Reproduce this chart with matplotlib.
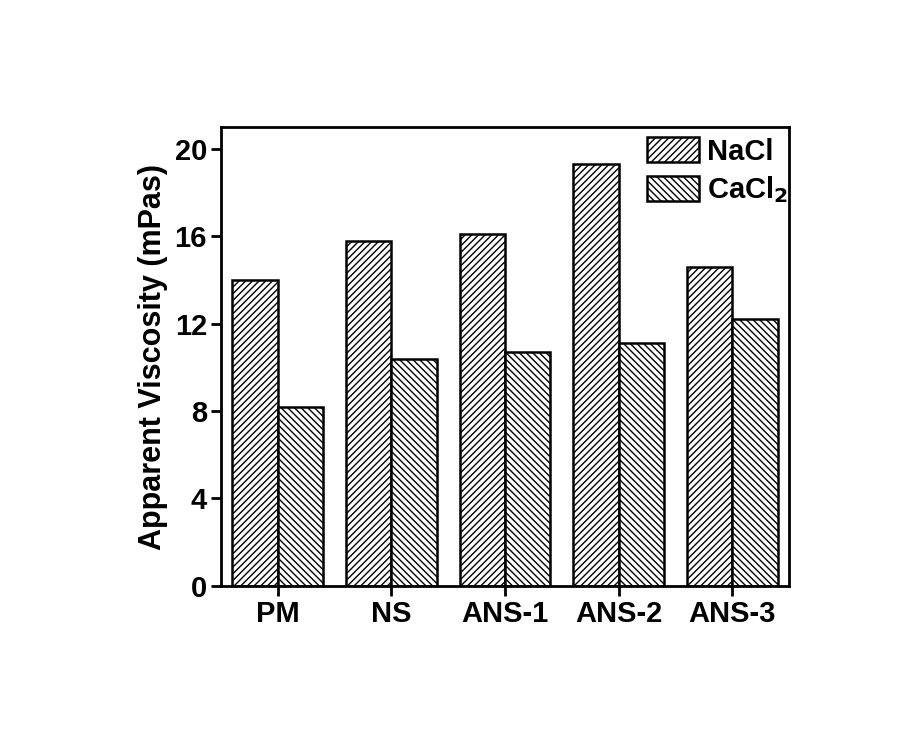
import numpy as np
import matplotlib.pyplot as plt

plt.rcParams['font.family'] = ['Liberation Sans', 'DejaVu Sans']
plt.rcParams['font.weight'] = 'bold'
plt.rcParams['hatch.linewidth'] = 1.0

samples = ['PM', 'NS', 'ANS-1', 'ANS-2', 'ANS-3']
nacl = [14.0, 15.8, 16.1, 19.3, 14.6]
cacl2 = [8.2, 10.4, 10.7, 11.1, 12.2]
yticks = [0, 4, 8, 12, 16, 20]

fig = plt.figure(figsize=(9.05, 7.53), dpi=100)
ax = fig.add_axes([0.244, 0.222, 0.628, 0.609])

x = np.arange(len(samples))
w = 0.4
ax.bar(x - w/2, nacl, w, color='white', edgecolor='black', linewidth=1.8,
       hatch='/////', label='NaCl')
ax.bar(x + w/2, cacl2, w, color='white', edgecolor='black', linewidth=1.8,
       hatch='\\\\\\\\\\', label='CaCl$_\\mathbf{2}$')

ax.set_xlim(-0.5, 4.5)
ax.set_ylim(0, 21)
ax.set_xticks(x)
ax.set_xticklabels(samples)
ax.set_yticks(yticks)
ax.tick_params(axis='both', direction='out', length=7, width=2, labelsize=21, pad=3)
ax.tick_params(top=False, right=False)
for s in ax.spines.values():
    s.set_linewidth(2)

ax.set_ylabel('Apparent Viscosity (mPas)', fontsize=22, fontweight='bold', labelpad=5)

ax.legend(loc='upper right', bbox_to_anchor=(1.005, 0.988), frameon=False,
          fontsize=21, handlelength=1.8, handleheight=0.95, borderaxespad=0.0,
          borderpad=0.15, labelspacing=0.3, handletextpad=0.25)

plt.savefig('out.png', dpi=100)
